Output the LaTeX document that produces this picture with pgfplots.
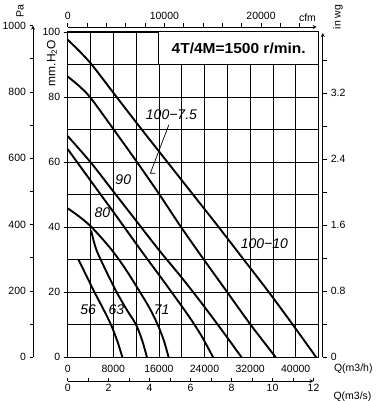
\documentclass[border=0pt]{standalone}
\usepackage{fontspec}
\setmainfont{Liberation Sans}
\usepackage{graphicx}
\usepackage{pgfplots}
\pgfplotsset{compat=1.18}
\newcommand{\tf}{\fontsize{10.5}{12}\selectfont}
\newcommand{\lf}{\fontsize{14}{16}\selectfont\itshape}
\pgfplotsset{
  auxaxis/.style={
    scale only axis,
    every outer x axis line/.append style={-},
    every outer y axis line/.append style={-},
    every inner x axis line/.append style={-},
    every inner y axis line/.append style={-},
    axis line style={-,black,line width=0.8pt},
    tick style={black,line width=0.6pt},
    scaled ticks=false,
    /pgf/number format/1000 sep={},
    /pgf/number format/assume math mode=true,
    ticklabel style={font=\tf},
  },
  fan/.style={black,line width=1.9pt,smooth,tension=0.5},
}
\begin{document}
\begin{tikzpicture}
\useasboundingbox (0,0) rectangle (375pt,-401pt);
% ---------- main axis ----------
\begin{axis}[
  at={(67.7pt,-357.3pt)}, anchor=south west,
  scale only axis, width=250.8pt, height=325.3pt,
  xmin=0, xmax=44000, ymin=0, ymax=100,
  xtick={0,8000,16000,24000,32000,40000},
  minor xtick={4000,12000,20000,28000,36000},
  ytick={0,20,40,60,80,100},
  minor ytick={10,30,50,70,90},
  grid=both,
  major grid style={black,line width=0.7pt},
  minor grid style={black,line width=0.7pt},
  axis line style={black,line width=1pt},
  tick pos=left, tick align=outside,
  major tick length=4pt, minor tick length=0pt,
  xtick style={draw=none},
  ytick style={black,line width=0.6pt},
  scaled ticks=false,
  /pgf/number format/1000 sep={},
  /pgf/number format/assume math mode=true,
  ticklabel style={font=\tf},
  clip=false,
]
% 100-10
\addplot[fan] coordinates {
 (0,97.6) (2000,94.2) (4300,89.8) (8500,80.2) (13000,70) (17500,60) (22000,50) (26500,40) (30900,30) (35300,20) (39500,10) (43600,0)};
% 100-7.5
\addplot[fan] coordinates {
 (0,86.3) (2000,83.4) (4000,79.8) (8000,70.2) (12000,60.4) (16000,50.3) (19900,40) (23900,30) (28000,20) (32100,10) (36500,0)};
% 90
\addplot[fan] coordinates {
 (0,68) (4000,60) (8000,51) (12000,42) (16000,33) (20000,24.5) (24000,15.5) (27400,7.5) (30500,0)};
% 80
\addplot[fan] coordinates {
 (0,64) (1650,60) (5800,50) (8300,44) (12800,33) (17000,23) (21100,13) (23500,6.5) (25500,0)};
% 71
\addplot[fan] coordinates {
 (0,45.8) (2000,43.3) (4200,40) (7500,33.5) (10000,27.5) (12700,20) (14400,15) (15800,10) (16900,5) (17700,0)};
% 63
\addplot[fan] coordinates {
 (4100,39) (4600,35.5) (5200,32.3) (6800,26.3) (8600,20) (10400,14.5) (12000,10) (13100,5) (13900,0)};
% 56
\addplot[fan] coordinates {
 (1900,30) (3300,25) (4700,20) (6200,15) (7600,10) (8700,5) (9600,0)};
% title box
\draw[black,line width=1pt,fill=white] (axis cs:16000,90) rectangle (axis cs:44000,100);
\node at (axis cs:30000,95) {\scalebox{1.07}[1]{\fontsize{14.5}{16}\selectfont\bfseries 4T/4M=1500 r/min.}};
% curve labels
\node[font=\lf] at (axis cs:18200,74.6) {100−7.5};
\node[font=\lf] at (axis cs:34500,34.8) {100−10};
\node[font=\lf] at (axis cs:9750,54.5) {90};
\node[font=\lf] at (axis cs:6100,44.4) {80};
\node[font=\lf] at (axis cs:3600,14.5) {56};
\node[font=\lf] at (axis cs:8550,14.5) {63};
\node[font=\lf] at (axis cs:16500,14.5) {71};
\draw[black,line width=0.7pt] (axis cs:17750,71.5) -- (axis cs:14500,56.6) -- (axis cs:15400,56.6);
\end{axis}
% ---------- Pa axis ----------
\begin{axis}[auxaxis,
  at={(33pt,-357.3pt)}, anchor=south west,
  width=10pt, height=331.7pt,
  xmin=0,xmax=1,ymin=0,ymax=1000,
  axis x line=none, axis y line=left,
  ytick={0,200,400,600,800,1000}, minor ytick={100,300,500,700,900},
  tick align=outside, major tick length=3.5pt, minor tick length=3.5pt,
]
\end{axis}
% ---------- in wg axis ----------
\begin{axis}[auxaxis,
  at={(322.8pt,-357.3pt)}, anchor=south east,
  width=10pt, height=324.3pt,
  xmin=0,xmax=1,ymin=0,ymax=3.925,
  axis x line=none, axis y line=right,
  ytick={0,0.8,1.6,2.4,3.2}, minor ytick={0.4,1.2,2.0,2.8,3.6},
  tick align=outside, major tick length=4.5pt, minor tick length=4.5pt,
]
\end{axis}
% ---------- cfm axis ----------
\begin{axis}[auxaxis,
  at={(67.7pt,-27pt)}, anchor=north west,
  width=248.9pt, height=10pt,
  xmin=0,xmax=25750,ymin=0,ymax=1,
  axis y line=none, axis x line=top,
  xtick={0,10000,20000}, minor xtick={2000,4000,6000,8000,12000,14000,16000,18000,22000,24000},
  tick align=outside, major tick length=3.5pt, minor tick length=3.5pt,
]
\end{axis}
% ---------- m3/s axis ----------
\begin{axis}[auxaxis,
  at={(67.7pt,-381pt)}, anchor=south west,
  width=245.8pt, height=10pt,
  xmin=0,xmax=12,ymin=0,ymax=1,
  axis y line=none, axis x line=bottom,
  xtick={0,2,4,6,8,10,12}, minor xtick={1,3,5,7,9,11},
  tick align=inside, major tick length=3pt, minor tick length=3pt,
]
\end{axis}
% ---------- extra labels ----------
\node[font=\tf,rotate=90] at (20pt,-11pt) {Pa};
\node[font=\fontsize{12}{14}\selectfont,rotate=90] at (52pt,-63pt) {mm.H\textsubscript{2}O};
\node[font=\tf,rotate=90] at (338pt,-17pt) {in wg};
\node[font=\tf] at (307.5pt,-17.5pt) {cfm};
\node[font=\tf] at (353.3pt,-369pt) {Q(m3/h)};
\node[font=\tf] at (352.5pt,-397pt) {Q(m3/s)};
\end{tikzpicture}
\end{document}
